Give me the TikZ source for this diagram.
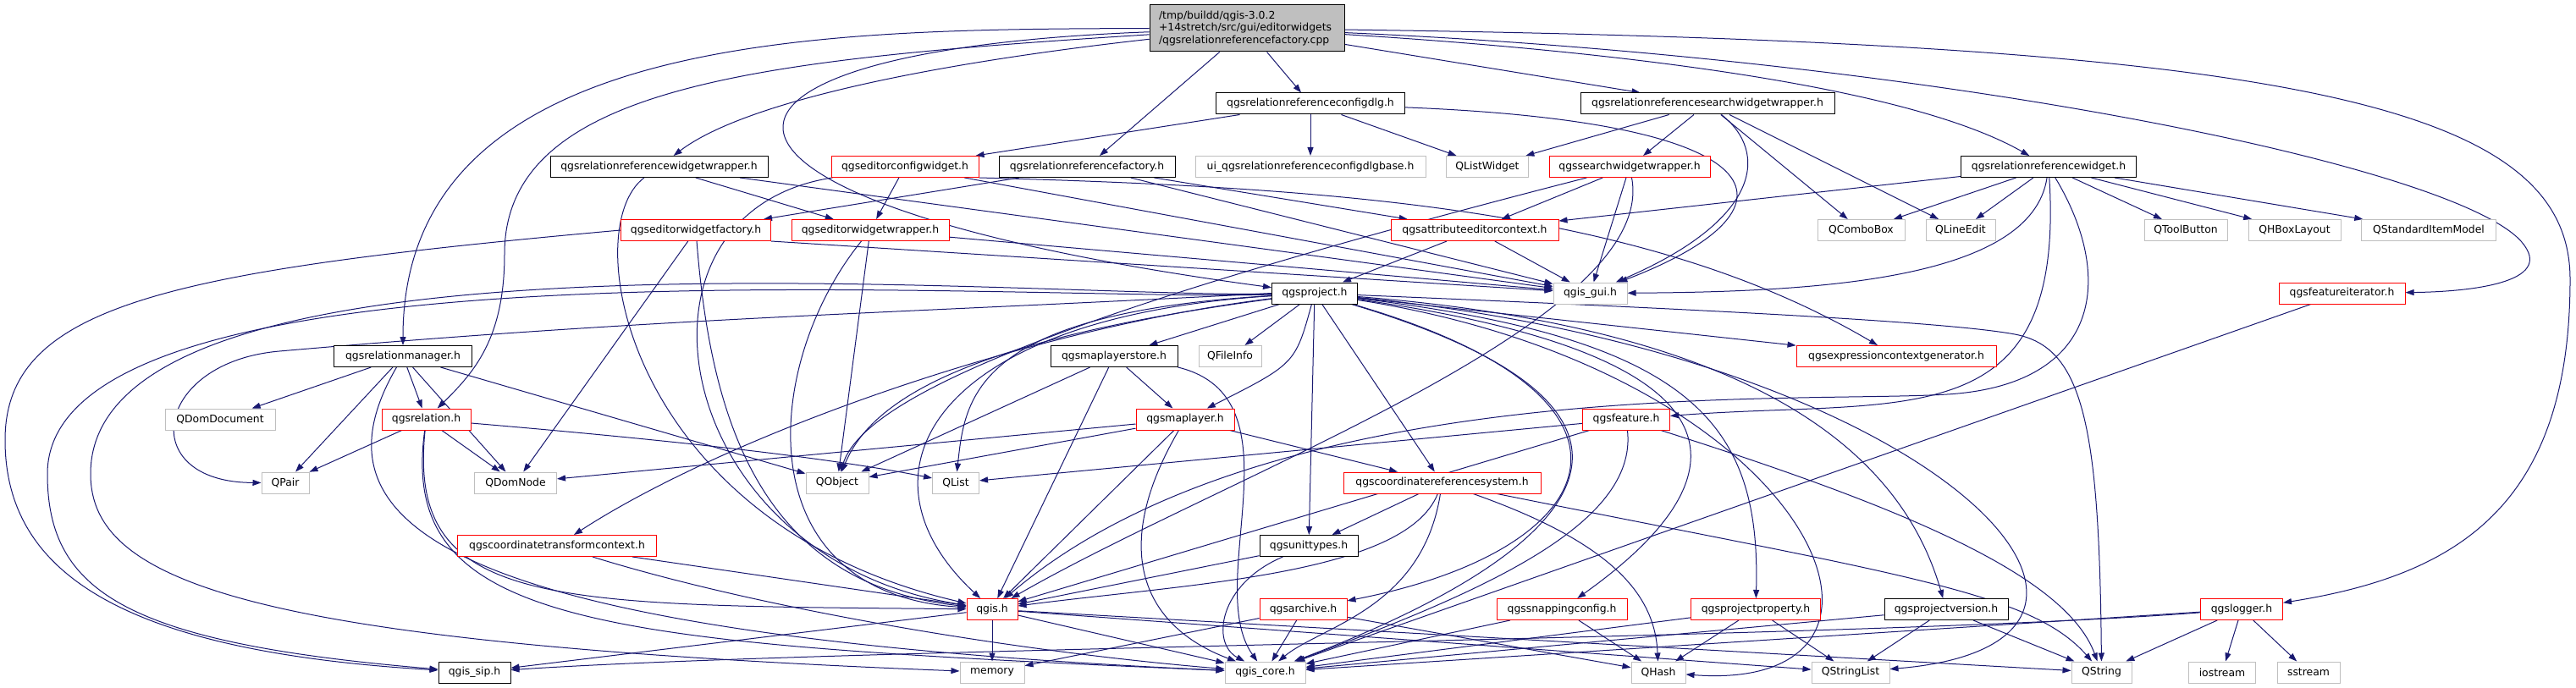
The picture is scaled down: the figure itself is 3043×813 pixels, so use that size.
\documentclass[tikz,border=0pt]{standalone}
\usepackage{fontspec}
\setmainfont{DejaVu Sans}
\usepackage{xcolor}
\usepackage{tikz}
\usetikzlibrary{arrows.meta}
\definecolor{edgeblue}{rgb}{0.1, 0.1, 0.44}
\definecolor{lightgrey}{rgb}{0.75, 0.75, 0.75}
\pgfdeclarelayer{background}
\pgfsetlayers{background,main}
\newcommand{\graphfont}{\fontsize{12.4}{14.5}\selectfont}

\begin{document}
\begin{tikzpicture}[
  x=1pt, y=1pt,
  >={Triangle[length=10pt,width=7pt]},
  box/.style={rectangle, draw=black, fill=white, line width=1pt, minimum height=25pt, inner sep=0pt, font=\graphfont},
  redbox/.style={box, draw=red},
  greybox/.style={box, draw=lightgrey},
  arrow/.style={->, draw=edgeblue, line width=1pt}
]
\useasboundingbox (0,0) rectangle (3043,-813);

% Source file
\node[box, fill=lightgrey, minimum height=55pt, text width=208pt, inner xsep=11pt, align=left] (root) at (1473,-33.5) {/tmp/buildd/qgis-3.0.2\\+14stretch/src/gui/editorwidgets\\/qgsrelationreferencefactory.cpp};

% Direct headers
\node[box, minimum width=223pt] (cfgdlg) at (1548,-122.5) {qgsrelationreferenceconfigdlg.h};
\node[box, minimum width=300pt] (refsearch) at (2017,-122.5) {qgsrelationreferencesearchwidgetwrapper.h};

\node[box, minimum width=257pt] (refwrap) at (778.5,-197) {qgsrelationreferencewidgetwrapper.h};
\node[redbox, minimum width=174pt] (cfgwidget) at (1069,-197) {qgseditorconfigwidget.h};
\node[box, minimum width=208pt] (factory) at (1284,-197) {qgsrelationreferencefactory.h};
\node[greybox, minimum width=272pt] (uibase) at (1548,-197) {ui\_qgsrelationreferenceconfigdlgbase.h};
\node[greybox, minimum width=97pt] (qlistwidget) at (1757,-197) {QListWidget};
\node[redbox, minimum width=190pt] (searchwrap) at (1925,-197) {qgssearchwidgetwrapper.h};
\node[box, minimum width=207pt] (refwidget) at (2420,-197) {qgsrelationreferencewidget.h};

% Editor widgets and Qt widgets
\node[redbox, minimum width=177pt] (ewfactory) at (822,-272) {qgseditorwidgetfactory.h};
\node[redbox, minimum width=186pt] (ewwrapper) at (1028,-272) {qgseditorwidgetwrapper.h};
\node[redbox, minimum width=198pt] (attrctx) at (1742,-272) {qgsattributeeditorcontext.h};
\node[greybox, minimum width=103pt] (qcombobox) at (2198.5,-272) {QComboBox};
\node[greybox, minimum width=82pt] (qlineedit) at (2316,-272) {QLineEdit};
\node[greybox, minimum width=98pt] (qtoolbutton) at (2582,-272) {QToolButton};
\node[greybox, minimum width=109pt] (qhboxlayout) at (2710.5,-272) {QHBoxLayout};
\node[greybox, minimum width=159pt] (qstdmodel) at (2869,-272) {QStandardItemModel};

% Project
\node[box, minimum width=101pt] (project) at (1553,-346.5) {qgsproject.h};
\node[greybox, minimum width=87pt] (qgisgui) at (1878.5,-346.5) {qgis\_gui.h};
\node[redbox, minimum width=149pt] (featiter) at (2766.5,-346.5) {qgsfeatureiterator.h};

\node[box, minimum width=163pt] (relmgr) at (476,-421) {qgsrelationmanager.h};
\node[box, minimum width=150pt] (layerstore) at (1316,-421) {qgsmaplayerstore.h};
\node[greybox, minimum width=74pt] (qfileinfo) at (1453,-421) {QFileInfo};
\node[redbox, minimum width=236pt] (exprgen) at (2240,-421) {qgsexpressioncontextgenerator.h};

\node[greybox, minimum width=130pt] (qdomdoc) at (260,-495.5) {QDomDocument};
\node[redbox, minimum width=105pt] (relation) at (503.5,-495.5) {qgsrelation.h};
\node[redbox, minimum width=116pt] (maplayer) at (1400,-495.5) {qgsmaplayer.h};
\node[redbox, minimum width=103pt] (feature) at (1921,-495.5) {qgsfeature.h};

\node[greybox, minimum width=56pt] (qpair) at (337,-570.5) {QPair};
\node[greybox, minimum width=97pt] (qdomnode) at (609,-570.5) {QDomNode};
\node[greybox, minimum width=74pt] (qobject) at (989,-570.5) {QObject};
\node[greybox, minimum width=55pt] (qlist) at (1129,-570.5) {QList};
\node[redbox, minimum width=233pt] (crs) at (1703.5,-570.5) {qgscoordinatereferencesystem.h};

\node[redbox, minimum width=235pt] (transctx) at (658,-645) {qgscoordinatetransformcontext.h};
\node[box, minimum width=116pt] (unittypes) at (1546,-645) {qgsunittypes.h};

\node[redbox, minimum width=60pt] (qgis) at (1172,-720) {qgis.h};
\node[redbox, minimum width=103pt] (archive) at (1539.5,-720) {qgsarchive.h};
\node[redbox, minimum width=154pt] (snapping) at (1845,-720) {qgssnappingconfig.h};
\node[redbox, minimum width=153pt] (projprop) at (2074,-720) {qgsprojectproperty.h};
\node[box, minimum width=146pt] (projver) at (2299,-720) {qgsprojectversion.h};
\node[redbox, minimum width=97pt] (logger) at (2648,-720) {qgslogger.h};

% System and core headers
\node[box, minimum width=85pt] (qgissip) at (560.5,-794.5) {qgis\_sip.h};
\node[greybox, minimum width=76pt] (memory) at (1172,-794.5) {memory};
\node[greybox, minimum width=95pt] (qgiscore) at (1494.5,-794.5) {qgis\_core.h};
\node[greybox, minimum width=64pt] (qhash) at (1959,-794.5) {QHash};
\node[greybox, minimum width=92pt] (qstringlist) at (2186,-794.5) {QStringList};
\node[greybox, minimum width=71pt] (qstring) at (2482.5,-794.5) {QString};
\node[greybox, minimum width=79pt] (iostream) at (2625,-794.5) {iostream};
\node[greybox, minimum width=74pt] (sstream) at (2727,-794.5) {sstream};

% Bends of the long edges
\coordinate (rtbend) at (3036,-330);
\coordinate (itbend) at (2982,-290);
\coordinate (relbend) at (596,-300);
\coordinate (ewfbend) at (6,-520);
\coordinate (sipbend) at (56,-560);
\coordinate (membend) at (107,-560);
\coordinate (pairbend) at (330,-415);
\coordinate (strbend) at (2380,-395);
\coordinate (rwbend) at (2300,-466);

\begin{pgfonlayer}{background}
% Source file
\draw[arrow] (root) -- (cfgdlg);
\draw[arrow] (root) -- (factory);
\draw[arrow] (root) .. controls (1100,-75) and (880,-120) .. (refwrap);
\draw[arrow] (root.west) .. controls (983,-35) and (476,-33) .. (relmgr);
\draw[arrow] (root) .. controls (900,-70) and (596,-100) .. (relbend) .. controls (596,-400) and (560,-440) .. (relation);
\draw[arrow] (root) .. controls (760,-60) and (760,-240) .. (project);
\draw[arrow] (root) -- (refsearch);
\draw[arrow] (root) .. controls (1900,-60) and (2250,-100) .. (refwidget);
\draw[arrow] (root) .. controls (2300,-70) and (2920,-200) .. (itbend) .. controls (3017,-338) and (2900,-345) .. (featiter);
\draw[arrow] (root) .. controls (2700,-50) and (3036,-120) .. (rtbend) .. controls (3036,-600) and (2900,-680) .. (logger);

% Config dialog
\draw[arrow] (cfgdlg) -- (uibase);
\draw[arrow] (cfgdlg) -- (qlistwidget);
\draw[arrow] (cfgdlg) -- (cfgwidget);
\draw[arrow] (cfgdlg) .. controls (2120,-145) and (2130,-250) .. (qgisgui);

% Search widget wrapper
\draw[arrow] (refsearch) -- (qlistwidget);
\draw[arrow] (refsearch) -- (searchwrap);
\draw[arrow] (refsearch) -- (qcombobox);
\draw[arrow] (refsearch) -- (qlineedit);
\draw[arrow] (refsearch) .. controls (2090,-180) and (2080,-260) .. (qgisgui);

% Widget wrapper
\draw[arrow] (refwrap) -- (ewwrapper);
\draw[arrow] (refwrap) -- (qgisgui);
\draw[arrow] (refwrap) .. controls (680,-270) and (740,-620) .. (qgis);

% Editor config widget
\draw[arrow] (cfgwidget) -- (ewwrapper);
\draw[arrow] (cfgwidget) -- (qgisgui);
\draw[arrow] (cfgwidget.south east) .. controls (1600,-222) and (1950,-250) .. (exprgen);
\draw[arrow] (cfgwidget) .. controls (720,-250) and (790,-660) .. (qgis);

% Factory header
\draw[arrow] (factory) -- (ewfactory);
\draw[arrow] (factory) -- (attrctx);
\draw[arrow] (factory) -- (qgisgui);

% Search widget wrapper (core)
\draw[arrow] (searchwrap) -- (attrctx);
\draw[arrow] (searchwrap) -- (qgisgui);
\draw[arrow] (searchwrap) .. controls (1250,-370) and (1020,-470) .. (qobject);
\draw[arrow] (searchwrap) .. controls (1960,-380) and (1450,-560) .. (qgis);

% Relation reference widget
\draw[arrow] (refwidget) -- (attrctx);
\draw[arrow] (refwidget) -- (qcombobox);
\draw[arrow] (refwidget) -- (qlineedit);
\draw[arrow] (refwidget) -- (qtoolbutton);
\draw[arrow] (refwidget) -- (qhboxlayout);
\draw[arrow] (refwidget) -- (qstdmodel);
\draw[arrow] (refwidget) .. controls (2400,-330) and (2150,-345) .. (qgisgui);
\draw[arrow] (refwidget) .. controls (2440,-520) and (2250,-470) .. (feature);
\draw[arrow] (refwidget) .. controls (2500,-330) and (2480,-455) .. (rwbend) .. controls (2120,-477) and (1500,-440) .. (qgis);

% Editor widget factory and wrapper
\draw[arrow] (ewfactory) -- (qdomnode);
\draw[arrow] (ewfactory.south east) -- (qgisgui);
\draw[arrow] (ewfactory) .. controls (840,-500) and (900,-690) .. (qgis);
\draw[arrow] (ewfactory.west) .. controls (200,-320) and (6,-360) .. (ewfbend) .. controls (6,-680) and (150,-770) .. (qgissip);
\draw[arrow] (ewwrapper) -- (qobject);
\draw[arrow] (ewwrapper) -- (qgisgui);
\draw[arrow] (ewwrapper) .. controls (900,-430) and (880,-700) .. (qgis);

% Attribute editor context
\draw[arrow] (attrctx) -- (project);
\draw[arrow] (attrctx) -- (qgisgui);

% Feature iterator
\draw[arrow] (featiter) -- (qgiscore);

% Project
\draw[arrow] (project) -- (layerstore);
\draw[arrow] (project) -- (qfileinfo);
\draw[arrow] (project) .. controls (1530,-430) .. (maplayer);
\draw[arrow] (project) .. controls (1150,-400) and (1030,-470) .. (qobject);
\draw[arrow] (project) .. controls (1150,-370) and (1140,-470) .. (qlist);
\draw[arrow] (project.west) .. controls (1044,-371) and (788,-375) .. (pairbend) .. controls (181,-428) and (159,-570) .. (qpair);
\draw[arrow] (project) .. controls (1200,-357) and (56,-270) .. (sipbend) .. controls (56,-700) and (150,-760) .. (qgissip);
\draw[arrow] (project) .. controls (1200,-352) and (107,-250) .. (membend) .. controls (107,-690) and (300,-760) .. (memory);
\draw[arrow] (project) .. controls (1100,-375) and (1000,-560) .. (qgis);
\draw[arrow] (project) .. controls (2000,-480) and (1900,-640) .. (qgiscore);
\draw[arrow] (project) .. controls (2150,-440) and (2300,-820) .. (qhash);
\draw[arrow] (project) .. controls (2300,-420) and (2600,-760) .. (qstringlist);
\draw[arrow] (project) .. controls (2000,-365) and (2300,-380) .. (strbend) .. controls (2460,-410) and (2480,-500) .. (qstring);
\draw[arrow] (project) -- (exprgen);
\draw[arrow] (project) -- (crs);
\draw[arrow] (project) .. controls (1200,-390) and (850,-520) .. (transctx);
\draw[arrow] (project) -- (unittypes);
\draw[arrow] (project) .. controls (1980,-470) and (1900,-650) .. (archive);
\draw[arrow] (project) .. controls (2070,-420) and (2070,-560) .. (snapping);
\draw[arrow] (project) .. controls (2000,-400) and (2080,-500) .. (projprop);
\draw[arrow] (project) .. controls (2100,-390) and (2250,-550) .. (projver);

% Relation manager and relation
\draw[arrow] (relmgr) -- (qdomdoc);
\draw[arrow] (relmgr) -- (qpair);
\draw[arrow] (relmgr) -- (relation);
\draw[arrow] (relmgr) -- (qdomnode);
\draw[arrow] (relmgr) -- (qobject);
\draw[arrow] (relmgr) .. controls (360,-620) and (520,-750) .. (qgiscore);
\draw[arrow] (relation) -- (qpair);
\draw[arrow] (relation) -- (qdomnode);
\draw[arrow] (relation) .. controls (850,-525) and (1000,-545) .. (qlist);
\draw[arrow] (relation) .. controls (480,-720) and (650,-715) .. (qgis);
\draw[arrow] (relation) .. controls (470,-740) and (700,-760) .. (qgiscore);

% Transform context
\draw[arrow] (transctx) -- (qgis);
\draw[arrow] (transctx) .. controls (900,-720) and (1200,-770) .. (qgiscore);

% Map layers
\draw[arrow] (layerstore) -- (qobject);
\draw[arrow] (layerstore) -- (qgis);
\draw[arrow] (layerstore) -- (maplayer);
\draw[arrow] (layerstore.south east) .. controls (1540,-470) and (1420,-690) .. (qgiscore);
\draw[arrow] (maplayer) -- (qdomnode);
\draw[arrow] (maplayer) -- (qobject);
\draw[arrow] (maplayer) -- (qgis);
\draw[arrow] (maplayer) .. controls (1310,-650) and (1350,-740) .. (qgiscore);
\draw[arrow] (maplayer) -- (crs);

% Feature
\draw[arrow] (feature) -- (qlist);
\draw[arrow] (feature) -- (qgis);
\draw[arrow] (feature) .. controls (1935,-620) and (1750,-700) .. (qgiscore);
\draw[arrow] (feature) .. controls (2250,-600) and (2440,-680) .. (qstring);

% Coordinate reference system
\draw[arrow] (crs) -- (unittypes);
\draw[arrow] (crs) .. controls (1660,-680) and (1400,-690) .. (qgis);
\draw[arrow] (crs) .. controls (1680,-720) and (1560,-740) .. (qgiscore);
\draw[arrow] (crs) .. controls (1900,-640) and (1955,-700) .. (qhash);
\draw[arrow] (crs) .. controls (2250,-680) and (2400,-700) .. (qstring);

% Unit types and archive
\draw[arrow] (unittypes) -- (qgis);
\draw[arrow] (unittypes) .. controls (1440,-690) and (1430,-760) .. (qgiscore);
\draw[arrow] (archive) -- (qgiscore);
\draw[arrow] (archive) -- (memory);
\draw[arrow] (archive) -- (qhash);

% Snapping, property, version
\draw[arrow] (snapping) -- (qgiscore);
\draw[arrow] (snapping) -- (qhash);
\draw[arrow] (projprop) -- (qgiscore);
\draw[arrow] (projprop) -- (qhash);
\draw[arrow] (projprop) -- (qstringlist);
\draw[arrow] (projver) -- (qgiscore);
\draw[arrow] (projver) -- (qstringlist);
\draw[arrow] (projver) -- (qstring);

% Logger
\draw[arrow] (logger) .. controls (2200,-755) and (1000,-765) .. (qgissip);
\draw[arrow] (logger) -- (qgiscore);
\draw[arrow] (logger) -- (qstring);
\draw[arrow] (logger) -- (iostream);
\draw[arrow] (logger) -- (sstream);

% qgis.h
\draw[arrow] (qgis) -- (qgissip);
\draw[arrow] (qgis) -- (memory);
\draw[arrow] (qgis) -- (qgiscore);
\draw[arrow] (qgis) -- (qstringlist);
\draw[arrow] (qgis) -- (qstring);
\end{pgfonlayer}

\end{tikzpicture}
\end{document}
